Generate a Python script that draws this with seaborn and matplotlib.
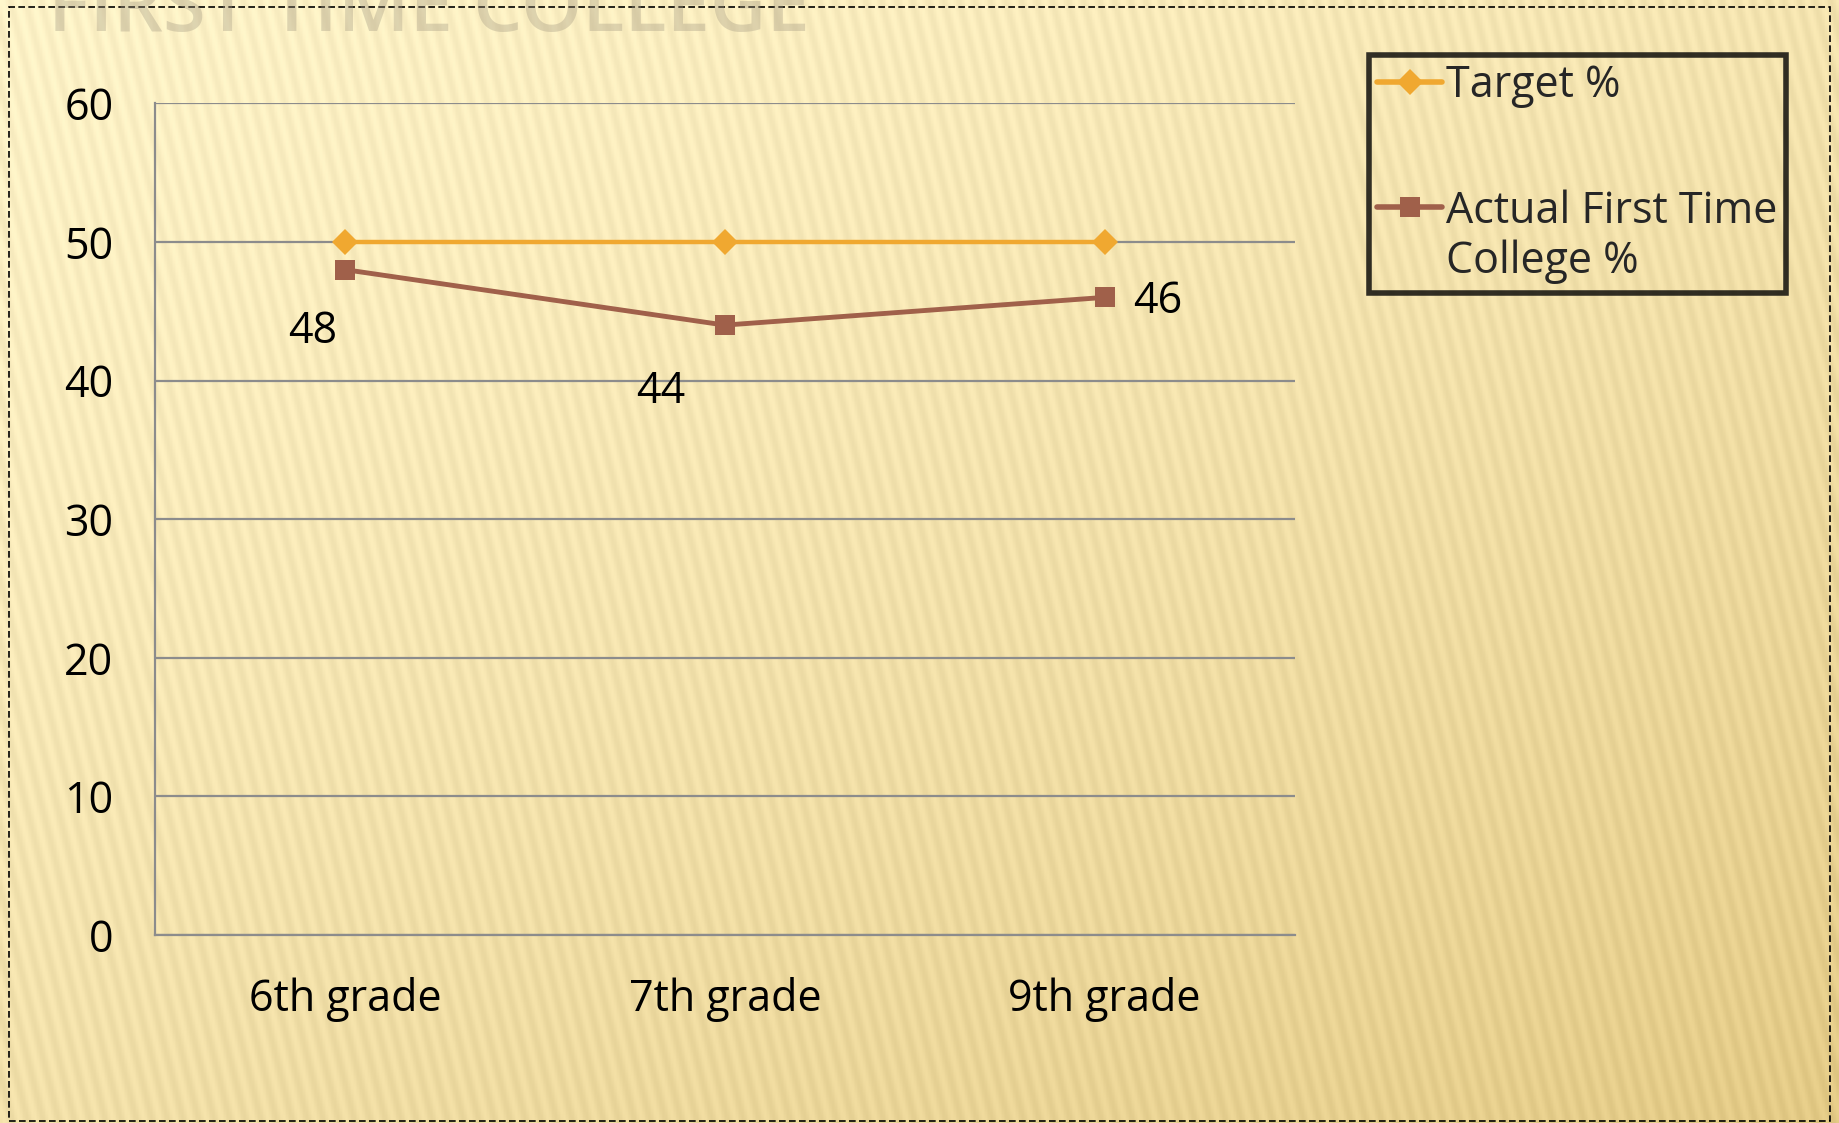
import numpy as np
import pandas as pd
import matplotlib.pyplot as plt
import seaborn as sns
from matplotlib.patches import Rectangle
from matplotlib.legend_handler import HandlerLine2D

# chart values
grades = ['6th grade', '7th grade', '9th grade']
target_pct = [50, 50, 50]
actual_pct = [48, 44, 46]
series_names = ['Target %', 'Actual First Time\nCollege %']

df = pd.DataFrame({
    'grade': grades * 2,
    'pos': list(range(len(grades))) * 2,
    'value': target_pct + actual_pct,
    'series': [series_names[0]] * 3 + [series_names[1]] * 3,
})

sns.set_style('white')
plt.rcParams['font.family'] = ['Open Sans', 'DejaVu Sans']


class TopAlignedLine(HandlerLine2D):
    # puts the legend handle next to the first line of a two-line label
    def __init__(self, shift, **kw):
        super().__init__(**kw)
        self.shift = shift

    def create_artists(self, legend, orig_handle, xdescent, ydescent,
                       width, height, fontsize, trans):
        return super().create_artists(legend, orig_handle, xdescent,
                                      ydescent - self.shift, width, height,
                                      fontsize, trans)


fig = plt.figure(figsize=(18.39, 11.23), dpi=100)

# slide background: cream to gold gradient with faint stripes
bg = fig.add_axes([0, 0, 1, 1], zorder=-10)
h, w = 400, 650
yy, xx = np.mgrid[0:h, 0:w]
t = 0.55 * (yy / h) + 0.45 * (xx / w)
t = np.clip(t, 0, 1) ** 1.3
c0 = np.array([0.995, 0.950, 0.780])
c1 = np.array([0.890, 0.790, 0.520])
img = c0[None, None, :] * (1 - t[..., None]) + c1[None, None, :] * t[..., None]
stripe = 0.025 * np.sin((xx + 0.25 * (h - yy)) * 2 * np.pi / 5.5)
img = np.clip(img + stripe[..., None], 0, 1)
bg.imshow(img, aspect='auto', extent=[0, 1, 0, 1])
bg.set_xlim(0, 1)
bg.set_ylim(0, 1)
bg.axis('off')
bg.add_patch(Rectangle((0.005, 0.002), 0.99, 0.992, fill=False, ls=(0, (4, 2)),
                       lw=1.2, ec='black'))
bg.text(0.026, 0.99, 'FIRST TIME COLLEGE', fontsize=56, color='#a09680', alpha=0.35,
        va='center', ha='left', fontweight='semibold')

ax = fig.add_axes([0.0843, 0.1674, 0.6197, 0.7406])
ax.patch.set_alpha(0)

palette = {series_names[0]: '#f0a830', series_names[1]: '#a0604a'}
markers = {series_names[0]: 'D', series_names[1]: 's'}
sns.lineplot(data=df, x='pos', y='value', hue='series', style='series',
             palette=palette, markers=markers, dashes=False, linewidth=3.5,
             markersize=15, markeredgewidth=0, ax=ax, zorder=3)
for line in ax.lines:
    if line.get_marker() == 'D':
        line.set_markersize(13)
        line.set_linewidth(3.2)

ax.set_xlim(-0.5, 2.5)
ax.set_ylim(0, 60)
ax.set_yticks(range(0, 61, 10))
ax.yaxis.grid(True, color='#8c8c8c', lw=1.6)
ax.set_axisbelow(True)
ax.set_xticks(range(len(grades)))
ax.set_xticklabels(grades)
ax.set_xticks([-0.5, 0.5, 1.5, 2.5], minor=True)
ax.tick_params(axis='x', which='major', length=0, pad=30, labelsize=31,
               labelcolor='black')
ax.tick_params(axis='x', which='minor', length=12, width=1.4, color='#8c8c8c')
ax.tick_params(axis='y', length=12, width=1.4, color='#8c8c8c', labelsize=31,
               pad=18, labelcolor='black')
ax.set_xlabel('')
ax.set_ylabel('')
for s in ['top', 'right']:
    ax.spines[s].set_visible(False)
for s in ['left', 'bottom']:
    ax.spines[s].set_color('#8c8c8c')
    ax.spines[s].set_linewidth(1.6)

# data labels for the actual series
offsets = [(-0.085, -4.5), (-0.17, -4.8), (0.14, -0.3)]
for i, v in enumerate(actual_pct):
    ax.text(i + offsets[i][0], v + offsets[i][1], str(v), fontsize=31,
            ha='center', va='center', color='black')

handles, labels = ax.get_legend_handles_labels()
handler_map = {handles[1]: TopAlignedLine(shift=46)}
leg = ax.legend(handles, labels, loc='upper left', bbox_to_anchor=(1.065, 1.058),
                borderaxespad=0, frameon=True, fontsize=31, handlelength=1.5,
                handletextpad=0.1, labelspacing=1.9, borderpad=0.2,
                fancybox=False, handler_map=handler_map)
leg.get_frame().set_edgecolor('black')
leg.get_frame().set_linewidth(4)
leg.get_frame().set_facecolor('none')
for t_ in leg.get_texts():
    t_.set_linespacing(1.15)
for lh in leg.get_lines():
    lh.set_linewidth(4)

fig.savefig('out.png', dpi=100)
